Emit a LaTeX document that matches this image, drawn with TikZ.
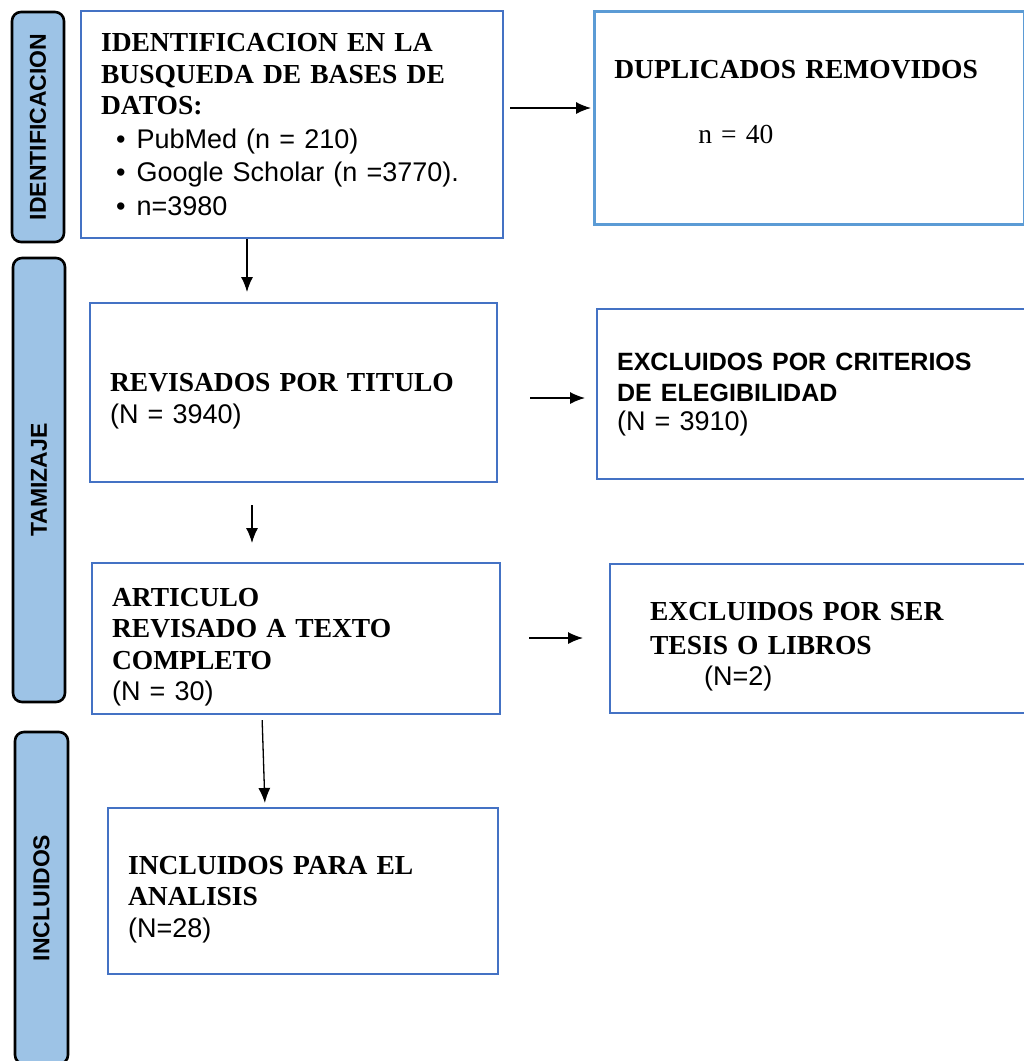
\documentclass[tikz,border=0pt]{standalone}
\usepackage{fontspec}
\setmainfont{Liberation Serif}[WordSpace=0.75]
\setsansfont{Liberation Sans}
\usetikzlibrary{arrows.meta}
\definecolor{boxblue}{HTML}{4472C4}
\definecolor{dupblue}{HTML}{5B9BD5}
\definecolor{barfill}{HTML}{9DC3E6}

\begin{document}
\begin{tikzpicture}[x=1pt,y=-1pt,
  phase/.style={draw=black,fill=barfill,line width=2.6pt,rounded corners=9pt,rotate=90,inner sep=0pt,
    font=\sffamily\bfseries\fontsize{23}{27}\selectfont},
  stage/.style={draw=boxblue,line width=2.2pt,anchor=north west,align=left,inner xsep=20pt,inner ysep=0pt,
    font=\fontsize{27.5}{31.5}\selectfont},
  dropped/.style={execute at begin node={\rule{0pt}{35pt}}},
  flow/.style={-{Latex[length=15pt,width=12pt]},line width=1.3pt}]
\useasboundingbox (0,0) rectangle (1024,1061);
\clip (0,0) rectangle (1024,1061);

\node[phase,minimum width=230pt,minimum height=52pt] (idbar) at (38,127) {IDENTIFICACION};
\node[phase,minimum width=444pt,minimum height=52pt] (tambar) at (39,480) {TAMIZAJE};
\node[phase,minimum width=332pt,minimum height=53pt] (incbar) at (41.5,898) {INCLUIDOS};

\node[stage,text width=382pt,minimum height=227pt] (idbox) at (80,10)
  {\textbf{IDENTIFICACION EN LA}\\ \textbf{BUSQUEDA DE BASES DE}\\ \textbf{DATOS:}\\[2pt]
   \textsf{\fontsize{27}{31}\selectfont\hspace*{15pt}\textbullet\hspace{11pt}PubMed (n = 210)}\\[2pt]
   \textsf{\fontsize{27}{31}\selectfont\hspace*{15pt}\textbullet\hspace{11pt}Google Scholar (n =3770).}\\[2pt]
   \textsf{\fontsize{27}{31}\selectfont\hspace*{15pt}\textbullet\hspace{11pt}n=3980}};
\node[stage,draw=dupblue,line width=2.6pt,text width=390pt,minimum height=213pt] (dupbox) at (593,10)
  {\textbf{DUPLICADOS REMOVIDOS}\\[34pt] \hspace*{84pt}n = 40\\ \mbox{}};

\node[stage,dropped,text width=367pt,minimum height=179pt] (revbox) at (89,302)
  {\textbf{REVISADOS POR TITULO}\\ \textsf{\fontsize{27}{31}\selectfont(N = 3940)}};
\node[stage,text width=404pt,minimum height=170pt] (critbox) at (596,308)
  {\textsf{\bfseries\fontsize{25}{30}\selectfont EXCLUIDOS POR CRITERIOS}\\
   \textsf{\bfseries\fontsize{25}{30}\selectfont DE ELEGIBILIDAD}\\[-3pt] \textsf{\fontsize{27}{30}\selectfont(N = 3910)}};

\node[stage,dropped,text width=368pt,minimum height=151pt] (artbox) at (91,562)
  {\textbf{ARTICULO}\\ \textbf{REVISADO A TEXTO}\\ \textbf{COMPLETO}\\ \textsf{\fontsize{27}{31}\selectfont(N = 30)}};
\node[stage,dropped,text width=391pt,minimum height=149pt] (tesbox) at (609,563)
  {\hspace*{20pt}\textbf{EXCLUIDOS POR SER}\\[2pt] \hspace*{20pt}\textbf{TESIS O LIBROS}\\
   \hspace*{74pt}\textsf{\fontsize{27}{31}\selectfont(N=2)}};

\node[stage,dropped,text width=350pt,minimum height=166pt] (inclbox) at (107,807)
  {\textbf{INCLUIDOS PARA EL}\\ \textbf{ANALISIS}\\ \textsf{\fontsize{27}{31}\selectfont(N=28)}};

\draw[flow,shorten <=6pt,shorten >=2pt] (idbox.east |- 0,108) -- (dupbox.west |- 0,108);
\draw[flow,shorten >=10pt] (idbox.south -| 247,0) -- (revbox.north -| 247,0);
\draw[flow,shorten <=32pt,shorten >=11pt] (revbox.east |- 0,398) -- (critbox.west |- 0,398);
\draw[flow,shorten <=22pt,shorten >=19pt] (revbox.south -| 252,0) -- (artbox.north -| 252,0);
\draw[flow,shorten <=28pt,shorten >=26pt] (artbox.east |- 0,638) -- (tesbox.west |- 0,638);
\draw[flow,shorten <=5pt,shorten >=4pt] (artbox.south -| 262,0) -- (inclbox.north -| 265,0);

\end{tikzpicture}
\end{document}
